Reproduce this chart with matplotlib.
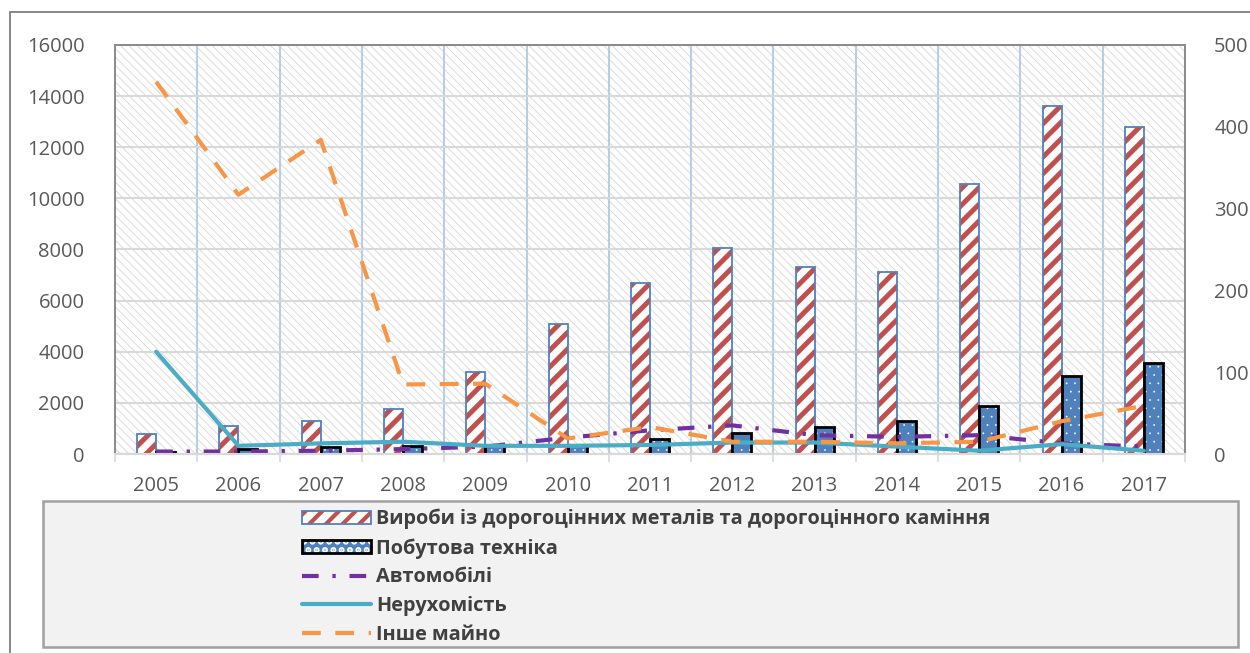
import matplotlib
matplotlib.use('Agg')
import matplotlib.pyplot as plt
import numpy as np
from matplotlib.patches import Rectangle, Patch
from matplotlib.lines import Line2D
from matplotlib.legend_handler import HandlerTuple
from matplotlib.ticker import FixedLocator

plt.rcParams['font.family'] = ['Open Sans', 'DejaVu Sans']
plt.rcParams['hatch.linewidth'] = 3.0

years = ['2005', '2006', '2007', '2008', '2009', '2010', '2011',
         '2012', '2013', '2014', '2015', '2016', '2017']
jewelry = [800, 1100, 1300, 1750, 3200, 5100, 6700, 8070, 7300, 7120, 10560, 13620, 12780]
appliances = [70, 180, 290, 310, 350, 350, 590, 840, 1070, 1290, 1890, 3060, 3570]
cars = [3, 3, 4, 6, 9, 20, 29, 35, 23, 21, 23, 13, 9]
realty = [125, 10, 13, 15, 10, 10, 11, 14, 14, 9, 4, 12, 4]
other = [455, 317, 384, 85, 86, 19, 33, 15, 15, 13, 15, 40, 59]

labels = ['Вироби із дорогоцінних металів та дорогоцінного каміння',
          'Побутова техніка', 'Автомобілі', 'Нерухомість', 'Інше майно']

W, H = 1250, 653
fig = plt.figure(figsize=(W / 100, H / 100), dpi=100)
ax = fig.add_axes([115 / W, 1 - 454 / H, (1185 - 115) / W, (454 - 45) / H])
ax2 = ax.twinx()


def hlw(p, lw):
    if hasattr(p, 'set_hatch_linewidth'):
        p.set_hatch_linewidth(lw)


# background hatch of plot area
ax.patch.set_facecolor('white')
ax.patch.set_edgecolor('#D6D6D6')
ax.patch.set_hatch('\\\\\\\\')
hlw(ax.patch, 0.6)

x = np.arange(len(years))
bw = 0.231
RED = '#C0504D'
BLUE = '#4F81BD'
STRIPE = '//'
DOTS = '..'

# jewelry bars: white fill + red stripes, blue edge
b1 = ax.bar(x - bw / 2, jewelry, bw, facecolor='white', edgecolor=RED,
            hatch=STRIPE, linewidth=0, zorder=3)
for p in b1:
    hlw(p, 3.6)
ax.bar(x - bw / 2, jewelry, bw, facecolor='none', edgecolor=BLUE,
       linewidth=1.3, zorder=3.1)

# appliances bars: blue fill + white dots, black edge
b2 = ax.bar(x + bw / 2, appliances, bw, facecolor=BLUE, edgecolor='white',
            hatch=DOTS, linewidth=0, zorder=3)
for p in b2:
    hlw(p, 0.1)
ax.bar(x + bw / 2, appliances, bw, facecolor='none', edgecolor='black',
       linewidth=2.0, zorder=3.1)

# lines on secondary axis
ln_cars, = ax2.plot(x, cars, color='#7030A0', lw=3,
                    linestyle=(0, (4, 3.3, 0.8, 3.3)), dash_capstyle='butt')
ln_real, = ax2.plot(x, realty, color='#4BACC6', lw=3, solid_capstyle='round')
ln_oth, = ax2.plot(x, other, color='#F79646', lw=3,
                   linestyle=(0, (4.5, 3.5)), dash_capstyle='butt')

# axes limits & ticks
ax.set_xlim(-0.5, len(years) - 0.5)
ax.set_ylim(0, 16000)
ax2.set_ylim(0, 500)
ax.set_yticks(np.arange(0, 16001, 2000))
ax2.set_yticks(np.arange(0, 501, 100))
ax.set_xticks(x)
ax.set_xticklabels(years)
ax.xaxis.set_minor_locator(FixedLocator(np.arange(-0.5, len(years), 1.0)))

tc = '#595959'
ax.tick_params(axis='y', length=0, pad=22, labelsize=14.5, labelcolor=tc)
ax2.tick_params(axis='y', length=0, pad=21, labelsize=14.5, labelcolor=tc)
ax.tick_params(axis='x', which='major', length=0, pad=16, labelsize=14.5, labelcolor=tc)
ax.tick_params(axis='x', which='minor', length=6, width=1.2, color='#D9D9D9')

ax.set_axisbelow(True)
ax.grid(axis='y', which='major', color='#D9D9D9', lw=1.5)
ax.grid(axis='x', which='minor', color='#B9CDE5', lw=1.5)
ax.grid(axis='x', which='major', visible=False)

for a in (ax, ax2):
    for s in ('left', 'right', 'top'):
        a.spines[s].set_color('#8C8C8C')
        a.spines[s].set_linewidth(1.3)
    a.spines['bottom'].set_color('#D9D9D9')
    a.spines['bottom'].set_linewidth(1.5)

# outer chart frame
fig.add_artist(Rectangle((9.5 / W, -0.1), 1.2, 1 - 12 / H + 0.1,
                         transform=fig.transFigure, fill=False,
                         edgecolor='#7F7F7F', lw=1.3, clip_on=False))
# legend box
fig.add_artist(Rectangle((43 / W, 1 - 647 / H), (1238 - 43) / W, (647 - 501) / H,
                         transform=fig.transFigure, facecolor='#F2F2F2',
                         edgecolor='#A0A0A0', lw=1.8, zorder=0))

# legend handles
h1a = Patch(facecolor='white', edgecolor=RED, hatch=STRIPE, linewidth=0)
hlw(h1a, 3.6)
h1b = Patch(facecolor='none', edgecolor=BLUE, linewidth=1.3)
h2a = Patch(facecolor=BLUE, edgecolor='white', hatch=DOTS, linewidth=0)
hlw(h2a, 0.1)
h2b = Patch(facecolor='none', edgecolor='black', linewidth=2.0)

leg = fig.legend([(h1a, h1b), (h2a, h2b), ln_cars, ln_real, ln_oth], labels,
                 handler_map={tuple: HandlerTuple(ndivide=1)},
                 loc='upper left', bbox_to_anchor=(302 / W, 1 - 509 / H),
                 frameon=False, borderpad=0, borderaxespad=0,
                 handlelength=3.45, handleheight=0.65, handletextpad=0.3,
                 labelspacing=0.44,
                 prop={'size': 14.3, 'weight': 'bold'})
for t in leg.get_texts():
    t.set_color('#404040')

fig.savefig('out.png', dpi=100)
